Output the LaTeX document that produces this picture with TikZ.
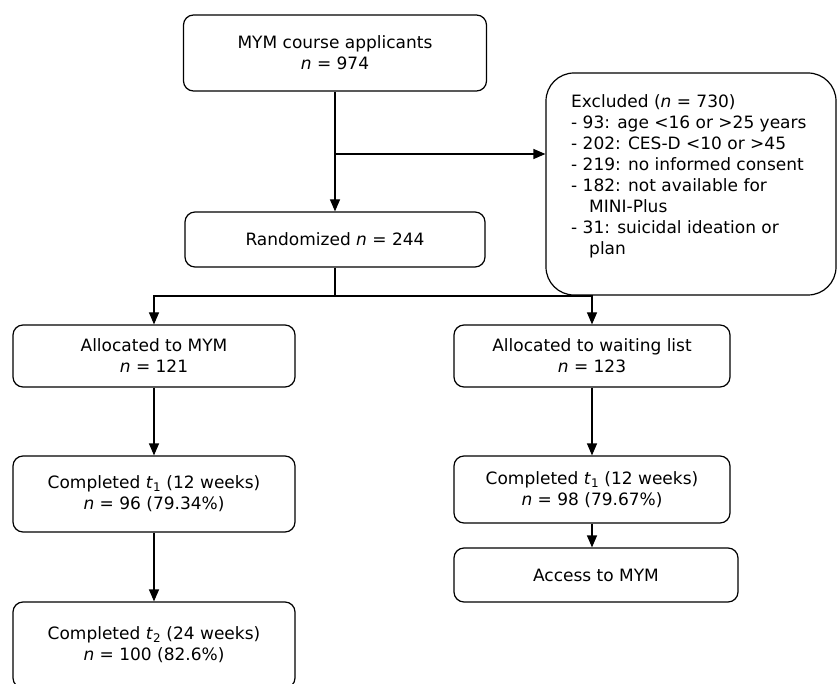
\documentclass[tikz,border=0pt]{standalone}
\usepackage{fontspec}
\setmainfont{DejaVu Sans}
\usetikzlibrary{arrows.meta}
\begin{document}
\begin{tikzpicture}[x=1pt,y=-1pt,
  box/.style={draw, line width=1.2pt, rounded corners=10pt, inner sep=0pt, align=center, font=\fontsize{17pt}{21pt}\selectfont},
  conn/.style={line width=1.2pt},
  arr/.style={conn, -{Triangle[length=12pt,width=10pt]}}]
\useasboundingbox (0,0) rectangle (838,684);
\clip (0,0) rectangle (838,684);
% boxes
\node[box, minimum width=303pt, minimum height=76pt] (A) at (335,53) {MYM course applicants\\\textit{n} = 974};
\node[box, minimum width=300pt, minimum height=55pt] (R) at (335,239.5) {Randomized \textit{n} = 244};
\node[box, rounded corners=28pt, minimum width=290pt, minimum height=222pt] (Ex) at (691,184) {};
\node[anchor=north west, align=left, inner sep=0pt, font=\fontsize{17pt}{21pt}\selectfont] (ExT) at (571,94)
  {Excluded (\textit{n} = 730)\\
   - 93: age <16 or >25 years\\
   - 202: CES-D <10 or >45\\
   - 219: no informed consent\\
   - 182: not available for\\
   \hspace*{18pt}MINI-Plus\\
   - 31: suicidal ideation or\\
   \hspace*{18pt}plan};
\node[box, minimum width=282pt, minimum height=62pt] (AM) at (154,356) {Allocated to MYM\\\textit{n} = 121};
\node[box, minimum width=276pt, minimum height=62pt] (AW) at (592,356) {Allocated to waiting list\\\textit{n} = 123};
\node[box, minimum width=282pt, minimum height=76pt] (CL) at (154,494) {Completed \textit{t}\textsubscript{1} (12 weeks)\\\textit{n} = 96 (79.34\%)};
\node[box, minimum width=276pt, minimum height=67pt] (CR) at (592,489.5) {Completed \textit{t}\textsubscript{1} (12 weeks)\\\textit{n} = 98 (79.67\%)};
\node[box, minimum width=284pt, minimum height=54pt] (AC) at (596,575) {Access to MYM};
\node[box, minimum width=282pt, minimum height=86pt] (C2) at (154,645) {Completed \textit{t}\textsubscript{2} (24 weeks)\\\textit{n} = 100 (82.6\%)};
% connectors
\coordinate (j1) at (335,154);
\coordinate (j2) at (335,296);
\draw[arr] (A.south) -- (R.north);
\draw[arr] (j1) -- (Ex.west |- j1);
\draw[conn] (R.south) -- (j2);
\draw[arr] (j2) -| (AM.north);
\draw[arr] (j2) -| (AW.north);
\draw[arr] (AM.south) -- (CL.north);
\draw[arr] (CL.south) -- (C2.north);
\draw[arr] (AW.south) -- (CR.north);
\draw[arr] (CR.south) -- (CR.south |- AC.north);
\end{tikzpicture}
\end{document}
